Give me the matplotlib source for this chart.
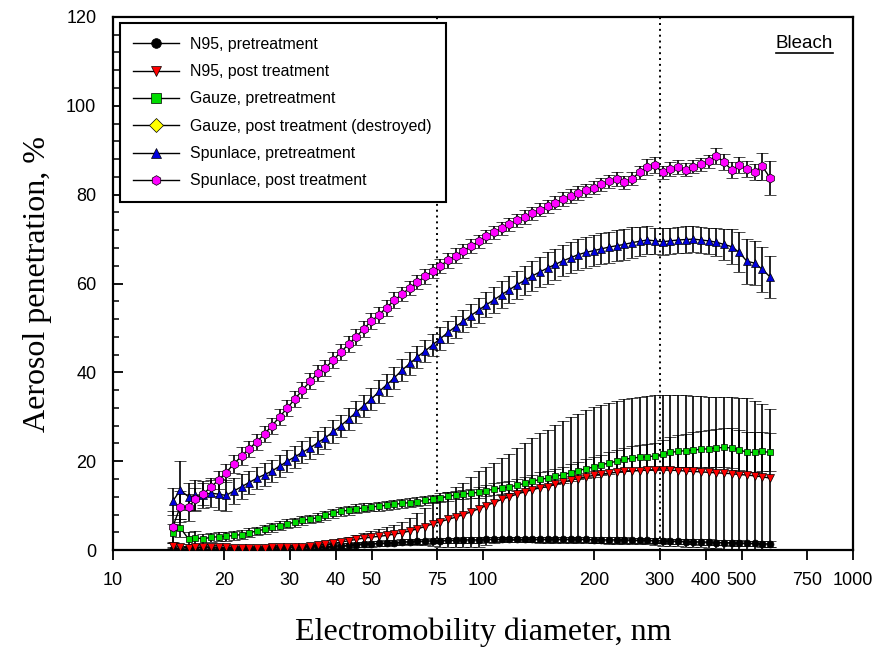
import matplotlib
matplotlib.use('Agg')
import matplotlib.pyplot as plt
from matplotlib.lines import Line2D
from matplotlib.ticker import FixedLocator, NullLocator, MultipleLocator

# Diameter channels (nm)
diameter = [
    14.5, 15.2, 16.0, 16.7, 17.5, 18.4, 19.3, 20.2, 21.2, 22.3,
    23.3, 24.5, 25.7, 26.9, 28.2, 29.6, 31.0, 32.5, 34.1, 35.8,
    37.5, 39.4, 41.3, 43.3, 45.4, 47.6, 49.9, 52.4, 54.9, 57.6,
    60.4, 63.4, 66.5, 69.7, 73.1, 76.7, 80.4, 84.3, 88.5, 92.8,
    97.3, 102.0, 107.0, 112.3, 117.8, 123.5, 129.5, 135.9, 142.5, 149.5,
    156.8, 164.4, 172.5, 180.9, 189.8, 199.0, 208.8, 219.0, 229.7, 240.9,
    252.7, 265.0, 278.0, 291.6, 305.8, 320.8, 336.4, 352.9, 370.1, 388.2,
    407.2, 427.1, 447.9, 469.8, 492.8, 516.9, 542.1, 568.6, 596.4]

n95_pre = [
    0.3, 0.1, 0.2, 0.2, 0.2, 0.2, 0.3, 0.3, 0.3, 0.3,
    0.3, 0.3, 0.4, 0.4, 0.5, 0.5, 0.6, 0.6, 0.7, 0.8,
    0.8, 0.9, 1.0, 1.1, 1.2, 1.3, 1.4, 1.5, 1.6, 1.7,
    1.8, 1.9, 2.0, 2.0, 2.1, 2.1, 2.2, 2.2, 2.3, 2.3,
    2.3, 2.4, 2.4, 2.4, 2.4, 2.4, 2.4, 2.4, 2.4, 2.4,
    2.4, 2.4, 2.4, 2.4, 2.4, 2.3, 2.3, 2.3, 2.3, 2.3,
    2.2, 2.2, 2.2, 2.1, 2.1, 2.0, 2.0, 1.9, 1.9, 1.8,
    1.8, 1.7, 1.7, 1.6, 1.6, 1.5, 1.5, 1.4, 1.4]
n95_pre_err = [
    0.4, 0.4, 0.4, 0.4, 0.4, 0.4, 0.4, 0.4, 0.4, 0.4,
    0.4, 0.4, 0.4, 0.5, 0.5, 0.5, 0.5, 0.5, 0.5, 0.5,
    0.5, 0.5, 0.6, 0.6, 0.6, 0.6, 0.6, 0.6, 0.6, 0.6,
    0.6, 0.6, 0.6, 0.6, 0.6, 0.6, 0.6, 0.6, 0.6, 0.6,
    0.6, 0.6, 0.6, 0.6, 0.6, 0.6, 0.6, 0.6, 0.6, 0.6,
    0.6, 0.6, 0.6, 0.6, 0.6, 0.6, 0.6, 0.6, 0.6, 0.6,
    0.6, 0.6, 0.6, 0.6, 0.6, 0.6, 0.6, 0.6, 0.6, 0.6,
    0.6, 0.6, 0.6, 0.6, 0.6, 0.6, 0.6, 0.6, 0.6]

n95_post = [
    1.0, 0.8, 0.5, 0.6, 0.8, 0.7, 0.7, 0.6, 0.5, 0.5,
    0.5, 0.5, 0.5, 0.6, 0.6, 0.7, 0.7, 0.8, 0.9, 1.1,
    1.3, 1.5, 1.8, 2.1, 2.4, 2.7, 2.9, 3.1, 3.3, 3.6,
    3.9, 4.3, 4.8, 5.3, 5.9, 6.4, 6.9, 7.4, 8.0, 8.6,
    9.3, 10.0, 10.7, 11.4, 12.0, 12.6, 13.1, 13.6, 14.0, 14.3,
    14.8, 15.3, 15.7, 16.1, 16.5, 16.8, 17.1, 17.3, 17.5, 17.7,
    17.8, 17.9, 18.0, 18.0, 18.0, 18.0, 17.9, 17.8, 17.7, 17.6,
    17.5, 17.4, 17.3, 17.2, 17.0, 16.9, 16.7, 16.5, 16.2]
n95_post_err = [
    0.5, 0.5, 0.5, 0.5, 0.5, 0.5, 0.5, 0.5, 0.5, 0.5,
    0.5, 0.5, 0.5, 0.5, 0.5, 0.5, 0.5, 0.5, 0.5, 0.5,
    0.6, 0.7, 0.8, 0.9, 1.0, 1.2, 1.4, 1.6, 1.8, 2.0,
    2.5, 3.0, 3.6, 4.2, 5.0, 5.6, 6.2, 6.8, 7.2, 7.8,
    8.5, 8.8, 9.0, 9.3, 9.6, 10.3, 11.0, 11.7, 12.3, 12.8,
    13.3, 13.7, 14.2, 14.6, 15.0, 15.3, 15.6, 15.9, 16.1, 16.3,
    16.4, 16.5, 16.6, 16.8, 17.0, 17.0, 17.0, 17.0, 17.0, 17.0,
    17.0, 17.0, 17.1, 17.2, 17.2, 17.3, 16.8, 16.3, 15.6]

gauze_pre = [
    3.8, 5.0, 2.5, 2.8, 2.5, 2.9, 3.0, 3.1, 3.3, 3.5,
    3.9, 4.3, 4.7, 5.1, 5.5, 5.9, 6.3, 6.7, 7.0, 7.3,
    7.8, 8.3, 8.7, 9.0, 9.3, 9.5, 9.7, 9.9, 10.1, 10.3,
    10.5, 10.7, 10.9, 11.2, 11.5, 11.8, 12.1, 12.4, 12.6, 12.8,
    13.0, 13.4, 13.7, 14.0, 14.2, 14.6, 15.0, 15.5, 15.9, 16.2,
    16.6, 17.0, 17.4, 17.9, 18.3, 18.7, 19.2, 19.6, 20.0, 20.4,
    20.7, 20.9, 21.0, 21.2, 21.6, 22.0, 22.2, 22.4, 22.5, 22.7,
    22.8, 23.0, 23.1, 23.0, 22.6, 22.0, 22.0, 22.2, 22.0]
gauze_pre_err = [
    2.0, 2.0, 1.5, 1.5, 1.2, 1.0, 1.0, 1.0, 1.0, 1.0,
    1.0, 1.0, 1.0, 1.0, 1.0, 1.0, 1.0, 1.0, 1.0, 1.0,
    1.0, 1.0, 1.0, 1.0, 1.0, 1.0, 1.0, 1.0, 1.0, 1.0,
    1.0, 1.0, 1.0, 1.0, 1.0, 1.0, 1.0, 1.0, 1.0, 1.0,
    1.2, 1.2, 1.3, 1.3, 1.4, 1.4, 1.5, 1.5, 1.6, 1.6,
    1.7, 1.8, 1.9, 2.0, 2.1, 2.2, 2.3, 2.4, 2.5, 2.6,
    2.7, 2.8, 2.9, 3.0, 3.2, 3.4, 3.6, 3.8, 4.0, 4.1,
    4.2, 4.3, 4.4, 4.5, 4.5, 4.5, 4.5, 4.4, 4.3]

spun_pre = [
    11.0, 13.5, 12.0, 12.3, 12.5, 12.8, 12.6, 12.3, 13.3, 14.3,
    15.2, 16.2, 17.0, 17.8, 18.9, 20.0, 21.0, 22.0, 23.0, 24.2,
    25.3, 26.7, 28.0, 29.5, 31.0, 32.5, 34.0, 35.7, 37.2, 38.8,
    40.5, 42.0, 43.5, 44.8, 46.2, 47.6, 49.0, 50.3, 51.5, 52.8,
    54.0, 55.2, 56.3, 57.5, 58.6, 59.7, 60.7, 61.7, 62.6, 63.5,
    64.3, 65.1, 65.8, 66.5, 67.0, 67.4, 67.8, 68.2, 68.5, 68.8,
    69.2, 69.5, 69.8, 69.6, 69.4, 69.6, 69.8, 69.9, 70.0, 69.8,
    69.6, 69.3, 68.8, 68.3, 67.0, 65.0, 64.6, 63.2, 61.5]
spun_pre_err = [
    3.0, 6.5, 3.0, 3.5, 3.0, 3.0, 3.5, 3.5, 3.0, 2.8,
    2.5, 2.5, 2.5, 2.5, 2.5, 2.5, 2.5, 2.5, 2.5, 2.5,
    2.5, 2.5, 2.5, 2.5, 2.5, 2.5, 2.5, 2.5, 2.5, 2.5,
    2.5, 2.5, 2.5, 2.5, 2.5, 2.5, 2.5, 2.5, 2.5, 2.5,
    2.8, 2.8, 3.0, 3.0, 3.0, 3.2, 3.2, 3.3, 3.4, 3.5,
    3.5, 3.5, 3.5, 3.5, 3.5, 3.5, 3.5, 3.5, 3.5, 3.5,
    3.5, 3.3, 3.2, 3.0, 3.0, 3.0, 3.0, 3.0, 3.0, 3.0,
    3.0, 3.2, 3.5, 4.0, 4.5, 5.0, 5.0, 5.0, 4.8]

spun_post = [
    5.2, 9.8, 9.6, 11.5, 12.6, 14.2, 15.8, 17.4, 19.4, 21.2,
    22.8, 24.4, 26.2, 28.0, 30.0, 32.0, 34.0, 36.0, 38.0, 39.8,
    41.0, 42.8, 44.6, 46.3, 48.0, 49.8, 51.5, 53.0, 54.6, 56.2,
    57.6, 59.0, 60.3, 61.6, 62.8, 64.0, 65.2, 66.3, 67.4, 68.4,
    69.5, 70.6, 71.5, 72.4, 73.3, 74.2, 75.0, 75.8, 76.6, 77.4,
    78.2, 79.0, 79.7, 80.4, 81.0, 81.6, 82.3, 83.0, 83.5, 82.8,
    83.6, 85.0, 86.3, 86.6, 85.0, 85.8, 86.2, 85.6, 86.3, 86.8,
    87.5, 88.8, 87.3, 85.6, 86.6, 85.8, 85.2, 86.4, 83.8]
spun_post_err = [
    3.5, 3.5, 3.0, 2.5, 2.5, 2.0, 2.0, 2.0, 2.0, 2.0,
    1.8, 1.8, 1.8, 1.8, 1.8, 1.8, 1.8, 1.8, 1.8, 1.8,
    1.8, 1.8, 1.8, 1.8, 1.8, 1.8, 1.8, 1.8, 1.8, 1.8,
    1.6, 1.6, 1.6, 1.6, 1.6, 1.6, 1.6, 1.6, 1.6, 1.6,
    1.5, 1.5, 1.5, 1.5, 1.5, 1.5, 1.5, 1.5, 1.5, 1.5,
    1.5, 1.5, 1.5, 1.5, 1.5, 1.5, 1.5, 1.5, 1.5, 1.5,
    1.5, 1.5, 1.8, 1.8, 1.5, 1.5, 1.5, 1.5, 1.5, 1.5,
    1.5, 1.8, 1.8, 1.8, 1.8, 1.8, 1.8, 3.0, 3.8]

x_ticks = [10, 20, 30, 40, 50, 75, 100, 200, 300, 400, 500, 750, 1000]
guide_lines = [75, 300]

series = [
    ('N95, pretreatment', n95_pre, n95_pre_err, 'o', 'black', 5.0),
    ('N95, post treatment', n95_post, n95_post_err, 'v', 'red', 5.5),
    ('Gauze, pretreatment', gauze_pre, gauze_pre_err, 's', '#00dd00', 5.0),
    ('Spunlace, pretreatment', spun_pre, spun_pre_err, '^', '#0000dd', 5.5),
    ('Spunlace, post treatment', spun_post, spun_post_err, 'h', '#ff00ff', 6.5),
]

sans = 'Liberation Sans'
serif = 'Liberation Serif'

fig = plt.figure(figsize=(8.83, 6.51), dpi=100)
ax = fig.add_axes([0.128, 0.155, 0.838, 0.819])

for gx in guide_lines:
    ax.axvline(gx, color='black', linestyle=(0, (1, 2)), linewidth=1.4, zorder=1)

for label, vals, errs, marker, color, ms in series:
    ax.errorbar(diameter, vals, yerr=errs, fmt='-', color='black', linewidth=1.0,
                ecolor='black', elinewidth=1.2, capsize=4, capthick=1.2,
                marker=marker, markersize=ms, markerfacecolor=color,
                markeredgecolor='black', markeredgewidth=0.5, zorder=3)

ax.set_xscale('log')
ax.set_xlim(10, 1000)
ax.set_ylim(0, 120)
ax.xaxis.set_major_locator(FixedLocator(x_ticks))
ax.xaxis.set_minor_locator(NullLocator())
ax.set_xticklabels([str(t) for t in x_ticks])
ax.yaxis.set_major_locator(MultipleLocator(20))
ax.yaxis.set_minor_locator(MultipleLocator(4))

ax.tick_params(axis='x', which='major', direction='out', length=7, width=1.3,
               labelsize=13, pad=9)
ax.tick_params(axis='y', which='major', direction='in', length=7, width=1.3,
               labelsize=13, pad=12)
ax.tick_params(axis='y', which='minor', direction='in', length=4, width=1.1)
for lab in ax.get_xticklabels() + ax.get_yticklabels():
    lab.set_fontfamily(sans)

for sp in ax.spines.values():
    sp.set_linewidth(1.6)

ax.set_xlabel('Electromobility diameter, nm', fontfamily=serif, fontsize=23, labelpad=20)
ax.set_ylabel('Aerosol penetration, %', fontfamily=serif, fontsize=23, labelpad=10)

# legend: black line with coloured marker, yellow diamond for destroyed sample
handles = []
names = ['N95, pretreatment', 'N95, post treatment', 'Gauze, pretreatment',
         'Gauze, post treatment (destroyed)', 'Spunlace, pretreatment',
         'Spunlace, post treatment']
legend_markers = [('o', 'black'), ('v', 'red'), ('s', '#00dd00'), ('D', 'yellow'),
                  ('^', '#0000dd'), ('h', '#ff00ff')]
for (mk, col), nm in zip(legend_markers, names):
    handles.append(Line2D([], [], color='black', linewidth=1.0, marker=mk,
                          markersize=7, markerfacecolor=col, markeredgecolor='black',
                          markeredgewidth=0.5, label=nm))
leg = ax.legend(handles=handles, loc='upper left', bbox_to_anchor=(0.003, 0.997),
                prop={'family': sans, 'size': 11.4}, frameon=True, fancybox=False,
                edgecolor='black', framealpha=1, handlelength=2.9, handletextpad=0.7,
                labelspacing=0.78, borderpad=0.85, borderaxespad=0.3)
leg.get_frame().set_linewidth(1.5)

t = ax.text(0.973, 0.951, 'Bleach', transform=ax.transAxes, ha='right', va='center',
            fontfamily=sans, fontsize=13.5)
fig.canvas.draw()
bb = t.get_window_extent()
inv = fig.transFigure.inverted()
(x0, y0), (x1, y1) = inv.transform([(bb.x0, bb.y0 - 1), (bb.x1, bb.y0 - 1)])
fig.add_artist(Line2D([x0, x1], [y0, y1], color='black', linewidth=1.2))

fig.savefig('out.png', dpi=100)
